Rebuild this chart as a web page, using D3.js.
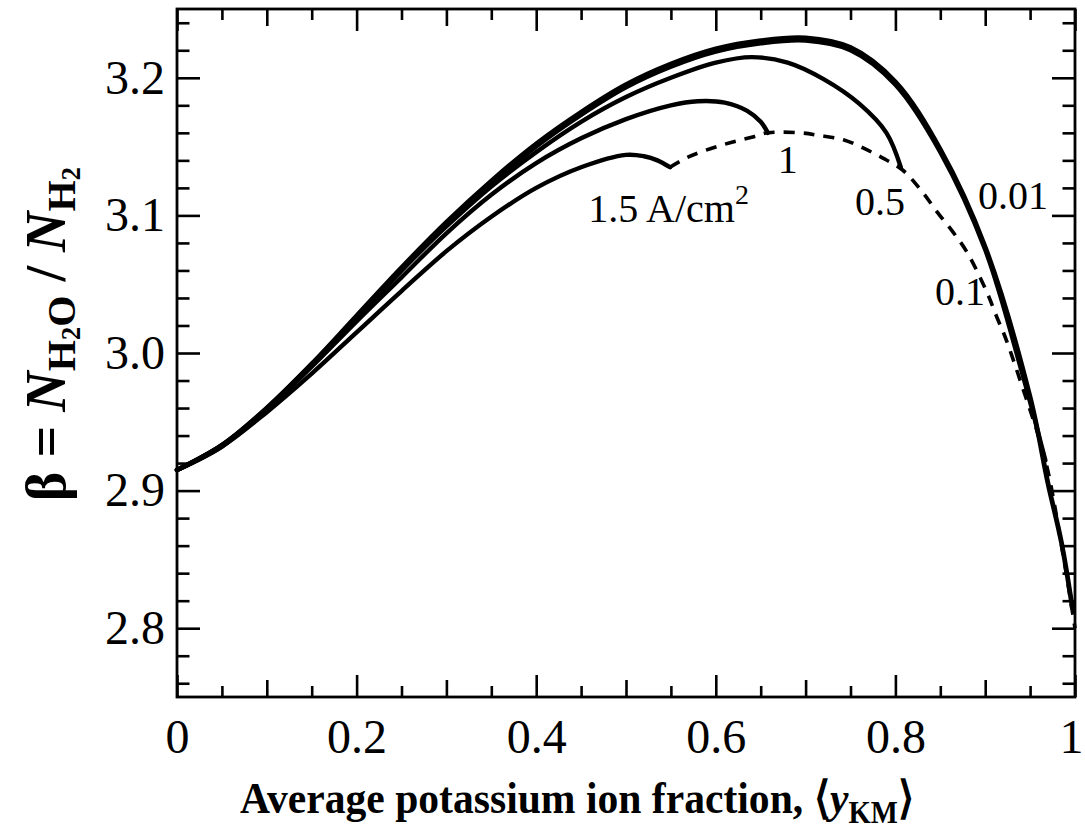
<!DOCTYPE html>
<html><head><meta charset="utf-8">
<script src="https://cdn.jsdelivr.net/npm/d3@7"></script>
<style>body{margin:0;background:#fff}svg{display:block}</style>
</head><body>
<svg id="c" width="1085" height="836"></svg>
<script>
// ---- data ----
const xTickLabels = ["0", "0.2", "0.4", "0.6", "0.8", "1"];
const xTickValues = [0, 0.2, 0.4, 0.6, 0.8, 1];
const yTickLabels = ["2.8", "2.9", "3.0", "3.1", "3.2"];
const yTickValues = [2.8, 2.9, 3.0, 3.1, 3.2];

// current density 0.01 A/cm2
const curve001 = [[0,2.915],[0.05,2.933],[0.1,2.960],[0.15,2.992],[0.2,3.027],[0.25,3.062],[0.3,3.095],[0.35,3.125],[0.4,3.152],[0.45,3.175],[0.5,3.195],[0.55,3.210],[0.6,3.221],[0.65,3.227],[0.7,3.229],[0.75,3.222],[0.8,3.197],[0.85,3.148],[0.9,3.077],[0.95,2.968],[0.97,2.905],[0.985,2.862],[0.997,2.815]];
// 0.1 A/cm2
const curve01 = [[0,2.915],[0.05,2.932],[0.1,2.959],[0.15,2.991],[0.2,3.025],[0.25,3.060],[0.3,3.093],[0.35,3.123],[0.4,3.150],[0.45,3.173],[0.5,3.193],[0.55,3.208],[0.6,3.219],[0.65,3.225],[0.7,3.227],[0.75,3.220],[0.8,3.195],[0.85,3.146],[0.9,3.075],[0.94,2.988],[0.967,2.922]];
// 0.5 A/cm2
const curve05 = [[0,2.915],[0.05,2.933],[0.1,2.960],[0.15,2.992],[0.2,3.026],[0.25,3.060],[0.3,3.092],[0.35,3.121],[0.4,3.146],[0.45,3.168],[0.5,3.186],[0.55,3.200],[0.6,3.211],[0.64,3.215],[0.68,3.211],[0.72,3.199],[0.76,3.181],[0.79,3.160],[0.806,3.135]];
// 1 A/cm2
const curve1 = [[0,2.915],[0.05,2.933],[0.1,2.959],[0.15,2.990],[0.2,3.023],[0.25,3.055],[0.3,3.087],[0.35,3.115],[0.4,3.138],[0.45,3.156],[0.5,3.170],[0.55,3.180],[0.58,3.183],[0.61,3.182],[0.635,3.176],[0.65,3.168],[0.658,3.160]];
// 1.5 A/cm2
const curve15 = [[0,2.915],[0.05,2.932],[0.1,2.957],[0.15,2.985],[0.2,3.015],[0.25,3.045],[0.3,3.074],[0.35,3.099],[0.4,3.120],[0.45,3.135],[0.5,3.144],[0.52,3.143],[0.535,3.140],[0.549,3.135]];
// dashed limiting locus (end points)
const limitLocus = [[0.549,3.135],[0.568,3.142],[0.601,3.150],[0.641,3.157],[0.658,3.160],[0.694,3.160],[0.716,3.158],[0.742,3.155],[0.764,3.149],[0.785,3.142],[0.808,3.133],[0.830,3.117],[0.847,3.102],[0.864,3.088],[0.880,3.073],[0.902,3.044],[0.913,3.026],[0.922,3.012],[0.94,2.978],[0.967,2.922],[0.985,2.86],[1.0,2.80]];

const curveLabels = ["0.01", "0.1", "0.5", "1", "1.5 A/cm"];
const curveLabelPos = [[0.892,3.105],[0.844,3.035],[0.755,3.100],[0.669,3.131],[0.458,3.095]];

// ---- layout ----
const L = 177, R = 1075, T = 9, B = 697;
const svg = d3.select("#c");
const x = d3.scaleLinear().domain([0, 1]).range([L, R]);
const y = d3.scaleLinear().domain([2.75, 3.25]).range([B, T]);
const serif = "'Liberation Serif','Times New Roman',serif";

// ticks via axes
const xMinor = d3.range(0, 21).map(i => i * 0.05).filter((v, i) => i % 2 === 1);
const xMid = d3.range(0, 11).map(i => i * 0.1).filter((v, i) => i % 2 === 1);
const yMinor = d3.range(0, 25).map(i => 2.76 + i * 0.02).filter((v, i) => (i % 5) !== 2);

function styleAxis(g) {
  g.select(".domain").remove();
  g.selectAll(".tick line").attr("stroke", "#000").attr("stroke-width", 2.6);
  g.selectAll("text").attr("font-family", serif).attr("font-size", 48).attr("fill", "#000");
}
// bottom
svg.append("g").attr("transform", `translate(0,${B})`)
  .call(d3.axisBottom(x).tickValues(xMinor).tickSize(-11).tickFormat("")).call(styleAxis);
svg.append("g").attr("transform", `translate(0,${B})`)
  .call(d3.axisBottom(x).tickValues(xMid).tickSize(-17).tickFormat("")).call(styleAxis);
const xLab = svg.append("g").attr("transform", `translate(0,${B})`)
  .call(d3.axisBottom(x).tickValues(xTickValues).tickSize(-22).tickPadding(22)
    .tickFormat((d, i) => xTickLabels[i])).call(styleAxis);
xLab.selectAll(".tick text").filter(d => d === 1).attr("dx", -4);
// top
svg.append("g").attr("transform", `translate(0,${T})`)
  .call(d3.axisTop(x).tickValues(xMinor).tickSize(-11).tickFormat("")).call(styleAxis);
svg.append("g").attr("transform", `translate(0,${T})`)
  .call(d3.axisTop(x).tickValues(xMid).tickSize(-17).tickFormat("")).call(styleAxis);
svg.append("g").attr("transform", `translate(0,${T})`)
  .call(d3.axisTop(x).tickValues(xTickValues).tickSize(-22).tickFormat("")).call(styleAxis);
// left
svg.append("g").attr("transform", `translate(${L},0)`)
  .call(d3.axisLeft(y).tickValues(yMinor).tickSize(-12.5).tickFormat("")).call(styleAxis);
svg.append("g").attr("transform", `translate(${L},0)`)
  .call(d3.axisLeft(y).tickValues(yTickValues).tickSize(-23).tickPadding(12)
    .tickFormat((d, i) => yTickLabels[i])).call(styleAxis);
// right
svg.append("g").attr("transform", `translate(${R},0)`)
  .call(d3.axisRight(y).tickValues(yMinor).tickSize(-12.5).tickFormat("")).call(styleAxis);
svg.append("g").attr("transform", `translate(${R},0)`)
  .call(d3.axisRight(y).tickValues(yTickValues).tickSize(-23).tickFormat("")).call(styleAxis);

// frame
svg.append("rect").attr("x", L).attr("y", T).attr("width", R - L).attr("height", B - T)
  .attr("fill", "none").attr("stroke", "#000").attr("stroke-width", 2.8);

// curves
const line = d3.line().x(d => x(d[0])).y(d => y(d[1])).curve(d3.curveCatmullRom.alpha(0.5));
const series = [
  {data: curve001, w: 4.8, dash: null},
  {data: curve01, w: 4.4, dash: null},
  {data: curve05, w: 4.4, dash: null},
  {data: curve1, w: 4.4, dash: null},
  {data: curve15, w: 4.4, dash: null},
  {data: limitLocus, w: 3.6, dash: "11,9"}
];
svg.append("g").selectAll("path").data(series).join("path")
  .attr("d", d => line(d.data))
  .attr("fill", "none").attr("stroke", "#000")
  .attr("stroke-width", d => d.w)
  .attr("stroke-linecap", d => d.dash ? "butt" : "round")
  .attr("stroke-linejoin", "round")
  .attr("stroke-dasharray", d => d.dash);

// curve labels
const lab = svg.append("g").attr("font-family", serif).attr("font-size", 40).attr("fill", "#000");
curveLabels.forEach((t, i) => {
  const tx = lab.append("text").attr("x", x(curveLabelPos[i][0])).attr("y", y(curveLabelPos[i][1]));
  tx.append("tspan").text(t);
  if (i === curveLabels.length - 1) {
    tx.append("tspan").attr("font-size", 28).attr("dy", -18).text("2");
  }
});

// x axis title (slightly condensed like the original bold serif)
const xt = svg.append("text").attr("transform", "translate(240,813) scale(0.925,1)")
  .attr("font-family", serif).attr("font-size", 45).attr("font-weight", "bold").attr("fill", "#000");
xt.append("tspan").text("Average potassium ion fraction, \u27E8");
xt.append("tspan").attr("font-style", "italic").text("y");
xt.append("tspan").attr("font-size", 31).attr("dy", 10).text("KM");
xt.append("tspan").attr("dy", -10).text("\u27E9");

// y axis title
const yt = svg.append("text").attr("transform", "translate(65,334) rotate(-90)")
  .attr("text-anchor", "middle")
  .attr("font-family", serif).attr("font-size", 56).attr("font-weight", "bold").attr("fill", "#000");
yt.append("tspan").text("\u03B2 = ");
yt.append("tspan").attr("font-style", "italic").text("N");
yt.append("tspan").attr("font-size", 40).attr("dy", 10).text("H");
yt.append("tspan").attr("font-size", 27).attr("dy", 5).text("2");
yt.append("tspan").attr("font-size", 40).attr("dy", -5).text("O");
yt.append("tspan").attr("dy", -10).text(" / ");
yt.append("tspan").attr("font-style", "italic").text("N");
yt.append("tspan").attr("font-size", 40).attr("dy", 10).text("H");
yt.append("tspan").attr("font-size", 27).attr("dy", 5).text("2");
</script>
</body></html>
